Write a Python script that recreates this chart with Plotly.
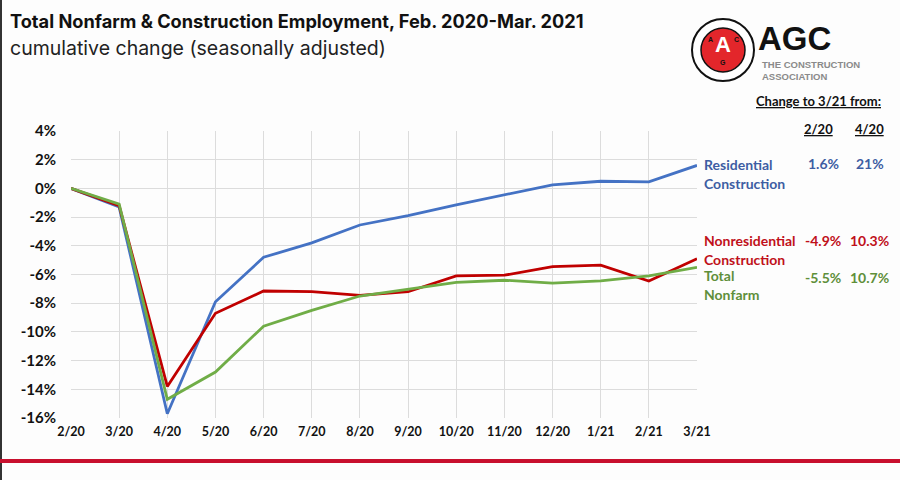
import plotly.graph_objects as go

months = ["2/20", "3/20", "4/20", "5/20", "6/20", "7/20", "8/20", "9/20",
          "10/20", "11/20", "12/20", "1/21", "2/21", "3/21"]
residential = [0, -1.3, -15.7, -7.9, -4.8, -3.8, -2.55, -1.9, -1.15, -0.45, 0.25, 0.5, 0.45, 1.6]
nonresidential = [0, -1.2, -13.8, -8.7, -7.15, -7.2, -7.45, -7.2, -6.1, -6.05, -5.45, -5.35, -6.45, -4.9]
total_nonfarm = [0, -1.1, -14.7, -12.8, -9.6, -8.5, -7.5, -7.0, -6.55, -6.4, -6.6, -6.45, -6.1, -5.5]
y_ticks = [4, 2, 0, -2, -4, -6, -8, -10, -12, -14, -16]

BLUE, RED, GREEN = "#4472C4", "#C00000", "#70AD47"
TBLUE, TRED, TGREEN = "#3E5DA3", "#C0101A", "#5F8F3A"

W, H = 900, 480
L, R, T, B = 71, 697, 131, 418


def px(x):
    return (x - L) / (R - L)


def py(y):
    return (B - y) / (B - T)


fig = go.Figure()
for name, vals, col in [("Residential", residential, BLUE),
                        ("Nonresidential", nonresidential, RED),
                        ("Total Nonfarm", total_nonfarm, GREEN)]:
    fig.add_trace(go.Scatter(x=list(range(len(months))), y=vals, mode="lines",
                             line=dict(color=col, width=2.8), name=name,
                             showlegend=False))

ann = []


def text(x, y, s, size, color="#000", bold=False, anchor="left", family="Liberation Sans", u=False):
    if bold:
        s = "<b>" + s + "</b>"
    if u:
        s = "<u>" + s + "</u>"
    ann.append(dict(x=px(x), y=py(y), xref="paper", yref="paper", text=s,
                    showarrow=False, xanchor=anchor, yanchor="middle",
                    font=dict(size=size, color=color, family=family)))


CAL = "Lato"
text(8, 21, "Total Nonfarm &amp; Construction Employment, Feb. 2020-Mar. 2021", 18.2, "#111", True, family="Inter")
text(8, 48, "cumulative change (seasonally adjusted)", 19.5, "#222", family="Inter")

# AGC logo text
text(756, 38, "AGC", 33, "#111", True, family="Liberation Sans")
text(760, 65, "THE CONSTRUCTION", 9.5, "#8A8A8A", True, family="Liberation Sans")
text(760, 76, "ASSOCIATION", 9.5, "#8A8A8A", True, family="Liberation Sans")
text(723, 44, "A", 22, "#FFFFFF", True, anchor="center", family="Liberation Sans")
text(710, 40, "A", 7, "#111", True, anchor="center")
text(736, 40, "C", 7, "#111", True, anchor="center")
text(723, 63, "G", 7, "#111", True, anchor="center")

text(818, 101, "Change to 3/21 from:", 13, "#111", True, anchor="center", family=CAL, u=True)
text(818, 129, "2/20", 13, "#111", True, anchor="center", family=CAL, u=True)
text(869, 129, "4/20", 13, "#111", True, anchor="center", family=CAL, u=True)

text(702, 164, "Residential", 14, TBLUE, True, family=CAL)
text(702, 183, "Construction", 14, TBLUE, True, family=CAL)
text(823, 163, "1.6%", 14, TBLUE, True, anchor="center", family=CAL)
text(870, 163, "21%", 14, TBLUE, True, anchor="center", family=CAL)

text(702, 240, "Nonresidential", 14, TRED, True, family=CAL)
text(702, 259, "Construction", 14, TRED, True, family=CAL)
text(823, 240, "-4.9%", 14, TRED, True, anchor="center", family=CAL)
text(869, 240, "10.3%", 14, TRED, True, anchor="center", family=CAL)

text(702, 275, "Total", 14, TGREEN, True, family=CAL)
text(702, 294, "Nonfarm", 14, TGREEN, True, family=CAL)
text(823, 277, "-5.5%", 14, TGREEN, True, anchor="center", family=CAL)
text(869, 277, "10.7%", 14, TGREEN, True, anchor="center", family=CAL)

shapes = [
    dict(type="line", xref="paper", yref="paper", x0=px(1), x1=px(1), y0=py(0), y1=py(H),
         line=dict(color="#333", width=2)),
    dict(type="line", xref="paper", yref="paper", x0=px(0), x1=px(W), y0=py(461), y1=py(461),
         line=dict(color="#C8102E", width=4)),
    dict(type="circle", xref="paper", yref="paper", x0=px(692), x1=px(754), y0=py(19), y1=py(81),
         fillcolor="#FFFFFF", line=dict(color="#111", width=2)),
    dict(type="circle", xref="paper", yref="paper", x0=px(701), x1=px(745), y0=py(28), y1=py(72),
         fillcolor="#E3262B", line=dict(color="#111", width=1.5)),
]

fig.update_layout(
    width=W, height=H,
    margin=dict(l=L, r=W - R, t=T, b=H - B),
    paper_bgcolor="#FDFDFD", plot_bgcolor="#FDFDFD",
    annotations=ann, shapes=shapes,
    xaxis=dict(range=[0, len(months) - 1], tickvals=list(range(len(months))), ticktext=months,
               showgrid=True, gridcolor="#DCDCDC", gridwidth=1, zeroline=False,
               showline=False, ticks="", ticklabelstandoff=4,
               tickfont=dict(family=CAL, size=12.5, color="#111", weight="bold")),
    yaxis=dict(range=[-16, 4], tickvals=y_ticks, ticktext=[f"{v}%" for v in y_ticks],
               showgrid=True, gridcolor="#DCDCDC", gridwidth=1, zeroline=False,
               showline=False, ticks="", ticklabelstandoff=14,
               tickfont=dict(family=CAL, size=15, color="#111", weight="bold")),
)

fig.write_html("out.html")
